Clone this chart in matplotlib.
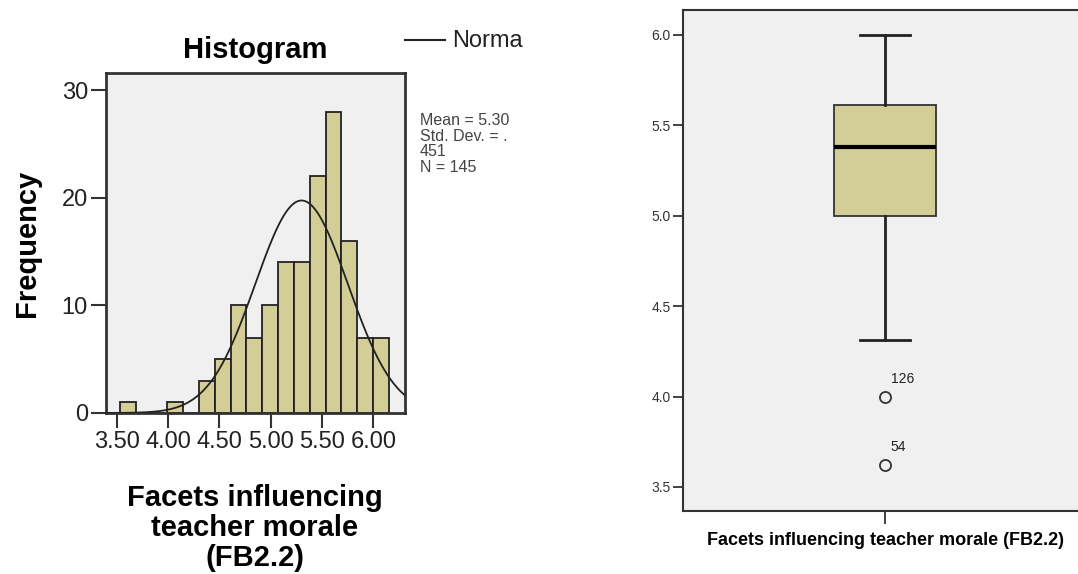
#Histograma y diagrama de caja de FB2.2

import numpy as np
import matplotlib.pyplot as plt

plt.rcParams['font.family'] = ['Liberation Sans', 'DejaVu Sans']

#Datos del histograma
bordes = [3.532, 3.686, 3.840, 3.994, 4.148, 4.302, 4.456, 4.610, 4.764,
          4.918, 5.072, 5.226, 5.380, 5.534, 5.688, 5.842, 5.996]
frecuencias = [1, 0, 0, 1, 0, 3, 5, 10, 7, 10, 14, 14, 22, 28, 16, 7, 7]
ancho = 0.154
media = 5.30
desv = 0.451
n = 145

#Datos del diagrama de caja
q1 = 5.00
mediana = 5.38
q3 = 5.615
bigote_inf = 4.31
bigote_sup = 6.00
atipicos = [4.00, 3.62]
etiquetas_atipicos = ["126", "54"]

colorBarra = "#D3CE97"
fondo = "#F0F0F0"

fig = plt.figure(figsize=(10.78, 5.74), dpi=100)

#Histograma
ax1 = fig.add_axes([0.0983, 0.2805, 0.2774, 0.5923])
ax1.set_facecolor(fondo)
ax1.bar(bordes, frecuencias, width=ancho, align="edge", color=colorBarra,
        edgecolor="#222222", linewidth=1.3, zorder=2)
x = np.linspace(3.3, 6.4, 300)
y = n*ancho/(desv*np.sqrt(2*np.pi))*np.exp(-0.5*((x-media)/desv)**2)
ax1.plot(x, y, color="#222222", linewidth=1.3, zorder=3)
ax1.set_xlim(3.396, 6.307)
ax1.set_ylim(0, 31.6)
ax1.set_xticks([3.5, 4.0, 4.5, 5.0, 5.5, 6.0])
ax1.set_xticklabels(["3.50", "4.00", "4.50", "5.00", "5.50", "6.00"])
ax1.set_yticks([0, 10, 20, 30])
ax1.tick_params(axis="both", labelsize=17, length=11, width=1.5, color="#333333",
                labelcolor="#222222", pad=2)
for s in ax1.spines.values():
    s.set_linewidth(2)
    s.set_color("#333333")
ax1.set_title("Histogram", fontsize=21, fontweight="bold", pad=11)
ax1.set_ylabel("Frequency", fontsize=21, fontweight="bold", labelpad=15)
fig.text(255/1078, 1-528/574, "Facets influencing\nteacher morale\n(FB2.2)",
         ha="center", va="center", fontsize=21, fontweight="bold", linespacing=1.1)

#Leyenda y estadisticos
fig.add_artist(plt.Line2D([405/1078, 445/1078], [1-40/574, 1-40/574],
                          color="#222222", linewidth=1.5))
fig.text(452/1078, 1-41/574, "Norma", fontsize=17, va="center", color="#222222")
lineas = ["Mean = 5.30", "Std. Dev. = .", "451", "N = 145"]
for i, t in enumerate(lineas):
    fig.text(420/1078, 1-(121+15.5*i)/574, t, fontsize=11.5, va="center",
             color="#444444")

#Diagrama de caja
ax2 = fig.add_axes([0.6336, 0.1098, 0.3748, 0.8728])
ax2.set_facecolor(fondo)
stats = [dict(q1=q1, med=mediana, q3=q3, whislo=bigote_inf, whishi=bigote_sup,
              fliers=atipicos)]
ax2.bxp(stats, positions=[1], widths=0.253, patch_artist=True,
        boxprops=dict(facecolor=colorBarra, edgecolor="#333333", linewidth=1.3),
        medianprops=dict(color="black", linewidth=3),
        whiskerprops=dict(color="#222222", linewidth=2),
        capprops=dict(color="#222222", linewidth=2),
        capwidths=0.125,
        flierprops=dict(marker="o", markersize=8, markerfacecolor="none",
                        markeredgecolor="#333333", markeredgewidth=1.3))
for v, e in zip(atipicos, etiquetas_atipicos):
    ax2.annotate(e, (1, v), xytext=(4, 10), textcoords="offset points",
                 fontsize=10, color="#222222")
ax2.set_xlim(0.5, 1.5)
ax2.set_ylim(3.367, 6.138)
ax2.set_yticks([3.5, 4.0, 4.5, 5.0, 5.5, 6.0])
ax2.set_yticklabels(["3.5", "4.0", "4.5", "5.0", "5.5", "6.0"])
ax2.set_xticks([1])
ax2.set_xticklabels(["Facets influencing teacher morale (FB2.2)"], fontweight="bold",
                    fontsize=13)
ax2.tick_params(axis="y", labelsize=10, length=7, width=1.3, color="#333333",
                labelcolor="#333333", pad=2)
ax2.tick_params(axis="x", length=9, width=1.3, color="#333333", pad=6)
for s in ax2.spines.values():
    s.set_linewidth(1.5)
    s.set_color("#333333")

plt.savefig("out.png", dpi=100)
